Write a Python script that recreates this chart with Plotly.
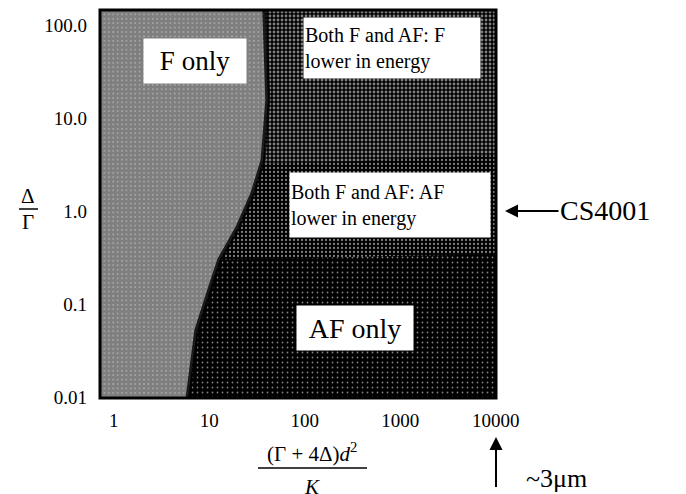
import plotly.graph_objects as go

# ---- data (log-log phase diagram) ----
# boundary of the "F only" region (x at given Delta/Gamma)
f_edge_y = [0.01, 0.015, 0.052, 0.18, 0.30, 0.67, 1.56, 3.5, 15.6, 150]
f_edge_x = [6.0, 6.3, 7.4, 10.9, 12.9, 20, 28.7, 36.5, 41, 38]
# boundary between "F lower" and "AF lower" energy regions
cross_x = [1, 35, 300, 3000, 10000]
cross_y = [3.2, 3.2, 3.4, 3.8, 4.0]
# boundary of the "AF only" region
af_x = [1, 13, 100, 1000, 10000]
af_y = [0.30, 0.30, 0.31, 0.33, 0.34]

x_ticks = [1, 10, 100, 1000, 10000]
x_ticktext = ["1", "10", "100", "1000", "10000"]
y_ticks = [100, 10, 1, 0.1, 0.01]
y_ticktext = ["100.0", "10.0", "1.0", "0.1", "0.01"]

X_RANGE = [-0.145, 4.002]
Y_RANGE = [-2.011, 2.161]
x_lo, x_hi = 10 ** (X_RANGE[0] - 0.5), 10 ** (X_RANGE[1] + 0.5)
y_lo, y_hi = 10 ** (Y_RANGE[0] - 0.5), 10 ** (Y_RANGE[1] + 0.5)

SERIF = "Liberation Serif"
OFF = 8  # page body margin offset

fig = go.Figure()

# AF only (whole background)
fig.add_trace(go.Scatter(
    x=[x_lo, x_hi, x_hi, x_lo], y=[y_lo, y_lo, y_hi, y_hi],
    mode="lines", line=dict(width=0), fill="toself",
    fillpattern=dict(shape=".", bgcolor="black", fgcolor="white", size=5, solidity=0.1),
    hoverinfo="skip", showlegend=False))

# Both F and AF: F lower (above crossover)
fig.add_trace(go.Scatter(
    x=[x_lo] + cross_x + [x_hi, x_hi, x_lo],
    y=[cross_y[0]] + cross_y + [cross_y[-1], y_hi, y_hi],
    mode="lines", line=dict(width=0), fill="toself",
    fillpattern=dict(shape=".", bgcolor="black", fgcolor="white", size=4, solidity=0.4),
    hoverinfo="skip", showlegend=False))

# Both F and AF: AF lower (between AF-only boundary and crossover)
fig.add_trace(go.Scatter(
    x=[x_lo] + af_x + [x_hi, x_hi] + cross_x[::-1] + [x_lo],
    y=[af_y[0]] + af_y + [af_y[-1], cross_y[-1]] + cross_y[::-1] + [cross_y[0]],
    mode="lines", line=dict(width=0), fill="toself",
    fillpattern=dict(shape=".", bgcolor="black", fgcolor="white", size=4, solidity=0.25),
    hoverinfo="skip", showlegend=False))

# F only (left of boundary)
fig.add_trace(go.Scatter(
    x=[x_lo, f_edge_x[0]] + f_edge_x + [f_edge_x[-1], x_lo],
    y=[y_lo, y_lo] + f_edge_y + [y_hi, y_hi],
    mode="lines", line=dict(width=0), fill="toself",
    fillpattern=dict(shape="+", bgcolor="white", fgcolor="black", size=4.4, solidity=0.95),
    hoverinfo="skip", showlegend=False))

# dark transition band along the F-only boundary
fig.add_trace(go.Scatter(
    x=f_edge_x, y=f_edge_y, mode="lines",
    line=dict(color="black", width=5), opacity=0.8,
    hoverinfo="skip", showlegend=False))


def px_x(px):
    return (px - 100) / 396.0


def px_y(py):
    return (398 - py) / 388.0


def label(x, y, text, size, **kw):
    d = dict(xref="paper", yref="paper", x=px_x(x), y=px_y(y), text=text,
             showarrow=False, xanchor="center", yanchor="middle",
             font=dict(family=SERIF, size=size, color="black"))
    d.update(kw)
    return d


ann = [
    # region labels (white boxes)
    label(195, 61, "F only", 27, bgcolor="white", width=100, height=42),
    label(392, 48, "Both F and AF: F<br>lower in energy", 20, bgcolor="white",
          align="left", width=174, height=58),
    label(390, 205, "Both F and AF: AF<br>lower in energy", 20, bgcolor="white",
          align="left", width=198, height=62),
    label(355, 328, "AF only", 28, bgcolor="white", width=114, height=42),
    # y-axis label Δ/Γ
    label(28, 196, "Δ", 21),
    label(28, 222, "Γ", 21),
    # x-axis label fraction
    label(312, 452, "(Γ + 4Δ)<i>d</i><sup>2</sup>", 21),
    label(314, 488, "<i>K</i><sub>-</sub>", 21),
    # CS4001 arrow
    label(505, 211, "CS4001", 28, showarrow=True, ax=100, ay=0, arrowhead=2,
          arrowsize=1.3, arrowwidth=2, arrowcolor="black"),
    # ~3µm arrow
    label(496, 437, " ", 10, showarrow=True, ax=0, ay=62, arrowhead=2,
          arrowsize=1.3, arrowwidth=2, arrowcolor="black"),
    label(556, 478, "~3μm", 26),
]

shapes = [
    dict(type="rect", xref="paper", yref="paper", x0=0, x1=1, y0=0, y1=1,
         line=dict(color="black", width=3)),
    dict(type="line", xref="paper", yref="paper", x0=px_x(19), x1=px_x(38),
         y0=px_y(209), y1=px_y(209), line=dict(color="black", width=1.5)),
    dict(type="line", xref="paper", yref="paper", x0=px_x(258), x1=px_x(367),
         y0=px_y(468), y1=px_y(468), line=dict(color="black", width=1.5)),
]

fig.update_layout(
    width=686 - OFF, height=494 - OFF,
    margin=dict(l=100 - OFF, r=190, t=10 - OFF, b=96, autoexpand=False),
    paper_bgcolor="white", plot_bgcolor="black",
    annotations=ann, shapes=shapes,
    font=dict(family=SERIF, color="black"),
    xaxis=dict(type="log", range=X_RANGE, tickvals=x_ticks, ticktext=x_ticktext,
               showgrid=False, zeroline=False, ticks="", showline=False,
               ticklabelstandoff=9, tickfont=dict(family=SERIF, size=19, color="black")),
    yaxis=dict(type="log", range=Y_RANGE, tickvals=y_ticks, ticktext=y_ticktext,
               showgrid=False, zeroline=False, ticks="", showline=False,
               ticklabelstandoff=12, tickfont=dict(family=SERIF, size=19, color="black")),
)

fig.write_html("out.html")
